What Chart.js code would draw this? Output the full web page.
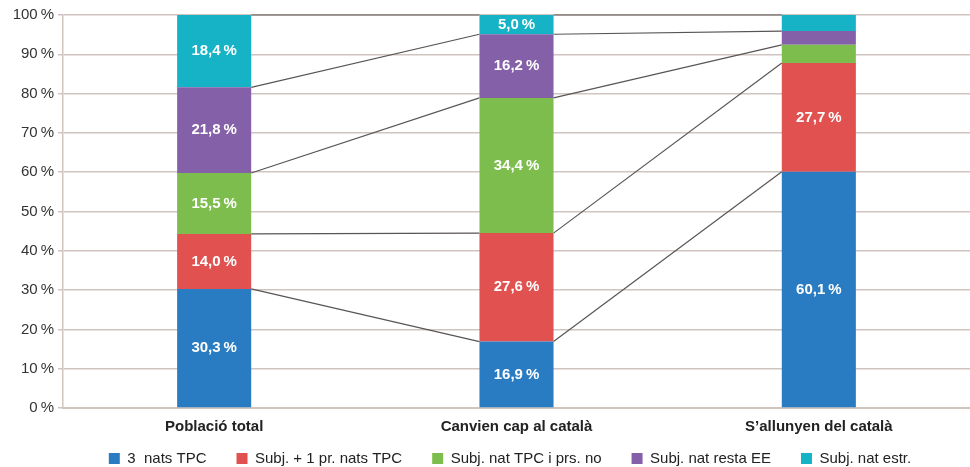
<!DOCTYPE html>
<html>
<head>
<meta charset="utf-8">
<script src="https://cdn.jsdelivr.net/npm/chart.js@4/dist/chart.umd.min.js"></script>
<style>
  html, body { margin: 0; padding: 0; background: #fff; }
  #wrap { width: 970px; height: 467px; position: relative; }
</style>
</head>
<body>
<div id="wrap"><canvas id="chart"></canvas></div>
<script>
var categories = ["Població total", "Canvien cap al català", "S’allunyen del català"];
var seriesNames = ["3  nats TPC", "Subj. + 1 pr. nats TPC", "Subj. nat TPC i prs. no", "Subj. nat resta EE", "Subj. nat estr."];
var seriesColors = ["#2a7cc2", "#e0514f", "#7dbd4e", "#8460a8", "#16b2c6"];
var natsTPC = [30.3, 16.9, 60.1];
var unPareTPC = [14.0, 27.6, 27.7];
var natTPCparesNo = [15.5, 34.4, 4.6];
var natRestaEE = [21.8, 16.2, 3.5];
var natEstr = [18.4, 5.0, 4.1];
var yTicks = [0, 10, 20, 30, 40, 50, 60, 70, 80, 90, 100];

var values = [natsTPC, unPareTPC, natTPCparesNo, natRestaEE, natEstr];
var FONT = "'Liberation Sans', Arial, sans-serif";

function pct(v) {
  return v.toFixed(1).replace(".", ",") + "\u2009%";
}

// thin lines joining the segment boundaries of neighbouring bars
var connectors = {
  id: "connectors",
  beforeDatasetsDraw: function (chart) {
    var ctx = chart.ctx;
    var y = chart.scales.y;
    var metas = chart.data.datasets.map(function (d, i) { return chart.getDatasetMeta(i); });
    ctx.save();
    ctx.strokeStyle = "#5a5555";
    ctx.lineWidth = 1.2;
    for (var c = 0; c < categories.length - 1; c++) {
      var sumA = 0, sumB = 0;
      for (var s = 0; s < values.length; s++) {
        sumA += values[s][c];
        sumB += values[s][c + 1];
        var a = metas[s].data[c], b = metas[s].data[c + 1];
        var x1 = a.x + a.width / 2, x2 = b.x - b.width / 2;
        ctx.beginPath();
        ctx.moveTo(x1, y.getPixelForValue(Math.min(sumA, 100)));
        ctx.lineTo(x2, y.getPixelForValue(Math.min(sumB, 100)));
        ctx.stroke();
      }
    }
    ctx.restore();
  }
};

// white value labels inside the segments
var barLabels = {
  id: "barLabels",
  afterDatasetsDraw: function (chart) {
    var ctx = chart.ctx;
    ctx.save();
    ctx.fillStyle = "#ffffff";
    ctx.font = "bold 15px " + FONT;
    ctx.textAlign = "center";
    ctx.textBaseline = "middle";
    chart.data.datasets.forEach(function (ds, i) {
      chart.getDatasetMeta(i).data.forEach(function (bar, j) {
        var v = ds.data[j];
        if (v < 5) return;
        ctx.fillText(pct(v), bar.x, (bar.y + bar.base) / 2);
      });
    });
    ctx.restore();
  }
};

// legend sits closer to the axis labels and is centred under the plot
var legendShift = {
  id: "legendShift",
  afterLayout: function (chart) {
    var lg = chart.legend;
    lg.top -= 17;
    lg.bottom -= 17;
    lg.left += 50;
  }
};

new Chart(document.getElementById("chart"), {
  type: "bar",
  data: {
    labels: categories,
    datasets: values.map(function (v, i) {
      return {
        label: seriesNames[i],
        data: v,
        backgroundColor: seriesColors[i],
        borderWidth: 0,
        barPercentage: 1,
        categoryPercentage: 0.245
      };
    })
  },
  options: {
    responsive: true,
    maintainAspectRatio: false,
    animation: false,
    layout: { padding: { top: 15, right: 0, left: 0, bottom: -26 } },
    plugins: {
      tooltip: { enabled: false },
      legend: {
        position: "bottom",
        labels: {
          boxWidth: 11,
          boxHeight: 11,
          padding: 30,
          color: "#222",
          font: { size: 15, family: FONT }
        }
      }
    },
    scales: {
      x: {
        stacked: true,
        grid: { display: false },
        border: { color: "#cfc4c0", width: 2 },
        ticks: {
          color: "#222",
          padding: 2,
          font: { size: 15, weight: "bold", family: FONT }
        }
      },
      y: {
        stacked: true,
        min: 0,
        max: 100,
        afterFit: function (s) { s.width = 63; },
        afterBuildTicks: function (s) {
          s.ticks = yTicks.map(function (t) { return { value: t }; });
        },
        grid: { color: "#cfc4c0", lineWidth: 1.5, tickLength: 5 },
        border: { color: "#cfc4c0", width: 1.5 },
        ticks: {
          color: "#333",
          padding: 4,
          font: { size: 15, family: FONT },
          callback: function (v) { return v + "\u2009%"; }
        }
      }
    }
  },
  plugins: [connectors, barLabels, legendShift]
});
</script>
</body>
</html>
